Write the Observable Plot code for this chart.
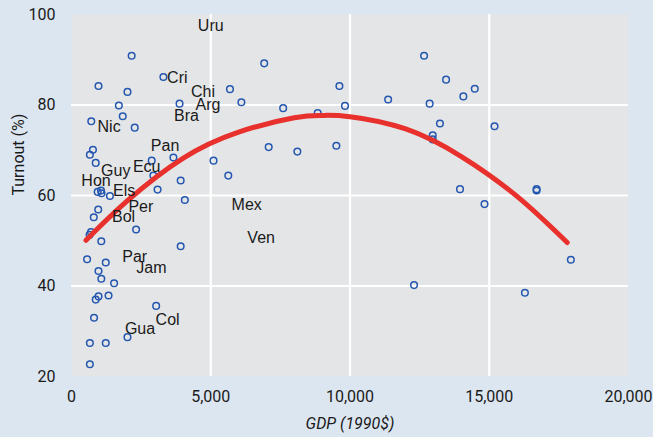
<!DOCTYPE html>
<html>
<head>
<meta charset="utf-8">
<script src="https://cdn.jsdelivr.net/npm/d3@7"></script>
<script src="https://cdn.jsdelivr.net/npm/@observablehq/plot@0.6"></script>
<style>
  html, body { margin: 0; padding: 0; background: #dce6f1; }
  #chart { width: 653px; height: 437px; }
</style>
</head>
<body>
<div id="chart"></div>
<script>
// Scatter points: GDP (1990$) and turnout (%)
const gdp = [2160, 3300, 970, 2010, 5690, 6100, 3880, 1700, 1840, 710, 2270, 770, 660, 870, 3660, 2880, 5100, 2940, 5630, 3920,
  3090, 940, 1060, 1080, 1380, 4070, 960, 800, 2320, 700, 650, 1070, 3920, 560, 1230, 970, 1070, 1530, 1330, 970,
  870, 3040, 810, 2010, 660, 1230, 660, 6920, 7600, 8840, 9620, 9820, 11370, 7080, 8110, 9510, 12660, 13450, 12860, 14070,
  14480, 13230, 12970, 12970, 15190, 13950, 16700, 16700, 14830, 17930, 12300, 16280];
const turnout = [90.9, 86.2, 84.2, 82.9, 83.5, 80.6, 80.3, 79.9, 77.5, 76.4, 75.0, 70.1, 69.0, 67.2, 68.4, 67.7, 67.7, 64.4, 64.4, 63.3,
  61.3, 60.8, 61.1, 60.5, 59.9, 59.0, 56.9, 55.2, 52.5, 51.9, 51.3, 49.9, 48.8, 45.9, 45.2, 43.3, 41.6, 40.6, 37.9, 37.7,
  37.0, 35.6, 33.0, 28.7, 27.4, 27.4, 22.7, 89.2, 79.3, 78.2, 84.2, 79.8, 81.2, 70.7, 69.7, 71.0, 90.9, 85.6, 80.3, 81.9,
  83.6, 75.9, 73.3, 72.4, 75.3, 61.4, 61.4, 61.1, 58.1, 45.8, 40.2, 38.5];

// Country labels
const countries = ["Uru", "Cri", "Chi", "Arg", "Bra", "Nic", "Pan", "Guy", "Ecu", "Hon", "Els", "Per", "Bol", "Mex", "Ven", "Par", "Jam", "Col", "Gua"];
const countryGdp = [5000, 3800, 4720, 4900, 4130, 1350, 3360, 1590, 2700, 880, 1890, 2490, 1870, 6290, 6810, 2270, 2870, 3450, 2460];
const countryTurnout = [97.4, 85.9, 83.0, 80.1, 77.7, 75.1, 70.9, 65.5, 66.3, 63.2, 61.1, 57.4, 55.2, 58.0, 50.6, 46.4, 44.0, 32.6, 30.6];

// Fitted curve
const fitGdp = [520, 2000, 4000, 6000, 8000, 9000, 10000, 12000, 14000, 16000, 17800];
const fitTurnout = [50.1, 58.8, 68.2, 74.0, 77.2, 77.7, 77.4, 74.7, 68.6, 59.8, 49.6];

// Axis ticks
const xTicks = [0, 5000, 10000, 15000, 20000];
const yTicks = [20, 40, 60, 80, 100];
const xGrid = [5000, 10000, 15000];
const yGrid = [40, 60, 80];

const points = gdp.map((g, i) => ({gdp: g, turnout: turnout[i]}));
const labels = countries.map((c, i) => ({name: c, gdp: countryGdp[i], turnout: countryTurnout[i]}));
const fit = fitGdp.map((g, i) => ({gdp: g, turnout: fitTurnout[i]}));

const font = "Roboto, 'Open Sans', sans-serif";

const chart = Plot.plot({
  width: 653,
  height: 437,
  marginLeft: 71,
  marginRight: 25,
  marginTop: 14,
  marginBottom: 61,
  style: {background: "transparent", fontFamily: font, fontSize: "16px", color: "#1a1a1a"},
  x: {domain: [0, 20000]},
  y: {domain: [20, 100]},
  marks: [
    Plot.frame({fill: "#e4e5e7", stroke: null}),
    Plot.gridX(xGrid, {stroke: "white", strokeOpacity: 1, strokeWidth: 2.2}),
    Plot.gridY(yGrid, {stroke: "white", strokeOpacity: 1, strokeWidth: 2.2}),
    Plot.axisX({ticks: xTicks, tickSize: 0, tickPadding: 14, tickFormat: d3.format(","), fontSize: 16, label: null}),
    Plot.axisY({ticks: yTicks, tickSize: 0, tickPadding: 16, fontSize: 16, label: null}),
    Plot.text(["Turnout (%)"], {frameAnchor: "left", dx: -53, rotate: -90, fontSize: 16, fill: "#1a1a1a"}),
    Plot.text(["GDP (1990$)"], {frameAnchor: "bottom", dy: 52, fontSize: 16, fontStyle: "italic", fill: "#1a1a1a"}),
    Plot.dot(points, {x: "gdp", y: "turnout", r: 3.3, stroke: "#2457b0", strokeWidth: 1.5, fill: "none"}),
    Plot.line(fit, {x: "gdp", y: "turnout", stroke: "#e8302c", strokeWidth: 5, curve: "natural", strokeLinecap: "round"}),
    Plot.text(labels, {x: "gdp", y: "turnout", text: "name", fontSize: 16, fill: "#1a1a1a", fontFamily: "'Liberation Sans', Arial, sans-serif"})
  ]
});
document.getElementById("chart").append(chart);
</script>
</body>
</html>
